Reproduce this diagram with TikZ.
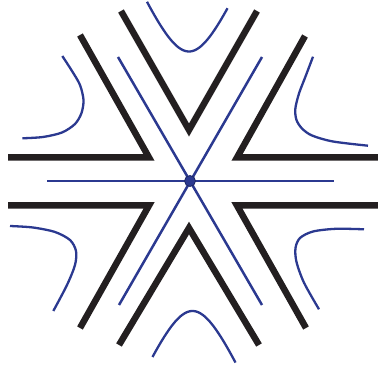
\documentclass[tikz,border=0pt]{standalone}
\definecolor{inkblue}{HTML}{2B3990}
\definecolor{inkblack}{HTML}{231F20}
\tikzset{
  wedge/.style={draw=inkblack, line width=6.5pt, line join=miter, line cap=butt},
  axisline/.style={draw=inkblue, line width=2.5pt},
  hyp/.style={draw=inkblue, line width=2.3pt, smooth, tension=0.5},
  hypf/.style={draw=inkblue, line width=2.3pt},
}
\begin{document}
\begin{tikzpicture}[x=1pt,y=-1pt]
\useasboundingbox (0,0) rectangle (378,366);
% centre
\coordinate (O) at (190,181);
% blue lines
\coordinate (h1) at (47,181);  \coordinate (h2) at (334,181);
\coordinate (d1) at (118,57);  \coordinate (d2) at (262,305);
\coordinate (e1) at (262,57);  \coordinate (e2) at (119,305);
\draw[axisline] (h1) -- (h2);
\draw[axisline] (d1) -- (d2);
\draw[axisline] (e1) -- (e2);
% black wedges
\coordinate (tlA) at (8,157.5);   \coordinate (tlV) at (149,157.5); \coordinate (tlB) at (80,35);
\coordinate (trA) at (378,157.5); \coordinate (trV) at (237,157.5); \coordinate (trB) at (305,36);
\coordinate (blA) at (8,205.5);   \coordinate (blV) at (149,205.5); \coordinate (blB) at (80,328);
\coordinate (brA) at (378,205.5); \coordinate (brV) at (237,205.5); \coordinate (brB) at (306,328);
\coordinate (tA) at (121,11);  \coordinate (tV) at (189,130); \coordinate (tB) at (257,11);
\coordinate (bA) at (119,345); \coordinate (bV) at (189,228); \coordinate (bB) at (259,345);
\draw[wedge] (tlA) -- (tlV) -- (tlB);
\draw[wedge] (trA) -- (trV) -- (trB);
\draw[wedge] (blA) -- (blV) -- (blB);
\draw[wedge] (brA) -- (brV) -- (brB);
\draw[wedge] (tA) -- (tV) -- (tB);
\draw[wedge] (bA) -- (bV) -- (bB);
% hyperbolas
\draw[hypf] plot[domain=-42:38.5, samples=60] ({189+\x},{51.5-69*(sqrt(1+(\x/30)^2)-1)});
\draw[hypf] plot[domain=-40:43, samples=60] ({192.5+\x},{311+69*(sqrt(1+(\x/30)^2)-1)});
\draw[hyp] plot coordinates {(62.3,56) (72,71) (80,85) (83.5,100) (81.5,113) (75,124) (62,132.5) (43,137) (22.3,138.3)};
\draw[hyp] plot coordinates {(313,56.7) (305.5,76.5) (299,93.5) (295.3,109) (296.5,120) (302,128.5) (312,135.5) (333,141.5) (368,145.7)};
\draw[hyp] plot coordinates {(10,226) (33,227.5) (55,232) (70,240) (76,251) (75,265) (67,285) (53.3,311)};
\draw[hyp] plot coordinates {(364,229.3) (336,228.8) (313,231.5) (300,238) (295.5,248) (296.5,262) (304,282.7) (319,309.3)};
% centre dot
\fill[inkblue, draw=inkblue!70!black, line width=0.8pt] (O) circle (5.5);
\end{tikzpicture}
\end{document}
